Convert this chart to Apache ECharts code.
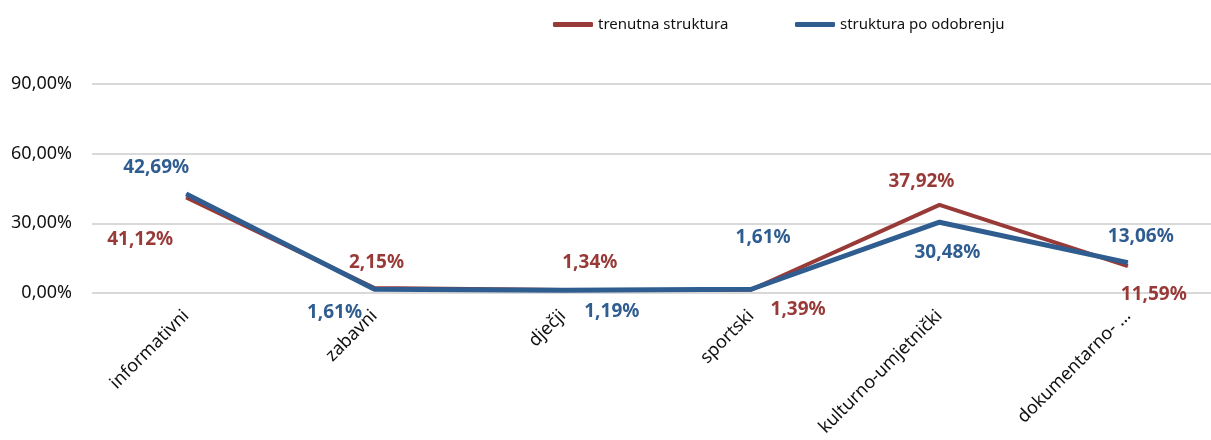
<!DOCTYPE html>
<html>
<head>
<meta charset="utf-8">
<script src="https://cdn.jsdelivr.net/npm/echarts@6/dist/echarts.min.js"></script>
<style>
  html, body { margin: 0; padding: 0; background: #fff; }
  #chart { width: 1211px; height: 440px; }
</style>
</head>
<body>
<div id="chart"></div>
<script>
const categories = ['informativni', 'zabavni', 'dječji', 'sportski', 'kulturno-umjetnički', 'dokumentarno- …']
const trenutna = [41.12, 2.15, 1.34, 1.39, 37.92, 11.59]
const poOdobrenju = [42.69, 1.61, 1.19, 1.61, 30.48, 13.06]
const yTicks = [0, 30, 60, 90]

// label offsets per point, so labels sit like in the source chart
const redOffsets = [[-46, 42], [2, -25], [27, -27], [47, 20], [-18, -23], [26, 29]]
const blueOffsets = [[-30, -26], [-40, 23], [49, 21], [12, -52], [8, 30], [13, -26]]

const RED = '#983A37'
const BLUE = '#2F5D90'
const fmt = v => v.toFixed(2).replace('.', ',') + '%'

const withLabels = (values, offsets, color) => values.map((v, i) => ({
    value: v,
    label: { offset: offsets[i], color: color }
}))

const myChart = echarts.init(document.getElementById('chart'))
const option = {
    animation: false,
    textStyle: { fontFamily: 'Noto Sans' },
    legend: [
        {
            data: ['trenutna struktura'],
            left: 548,
            top: 12,
            itemWidth: 40,
            itemHeight: 5,
            icon: 'roundRect',
            textStyle: { fontSize: 15, color: '#111' }
        },
        {
            data: ['struktura po odobrenju'],
            left: 790,
            top: 12,
            itemWidth: 40,
            itemHeight: 5,
            icon: 'roundRect',
            textStyle: { fontSize: 15, color: '#111' }
        }
    ],
    grid: {
        left: 92,
        width: 1130,
        top: 84,
        bottom: 147,
        containLabel: false,
        outerBoundsMode: 'none'
    },
    xAxis: {
        type: 'category',
        data: categories,
        boundaryGap: true,
        axisTick: { show: false },
        axisLine: { show: false },
        axisLabel: {
            rotate: 45,
            interval: 0,
            margin: 20,
            fontSize: 18,
            color: '#111'
        }
    },
    yAxis: {
        type: 'value',
        min: yTicks[0],
        max: yTicks[yTicks.length - 1],
        interval: yTicks[1] - yTicks[0],
        axisLine: { show: false },
        axisTick: { show: false },
        axisLabel: {
            fontSize: 18,
            color: '#111',
            margin: 20,
            formatter: v => fmt(v)
        },
        splitLine: {
            lineStyle: { color: '#d9d9d9', width: 2 }
        }
    },
    series: [
        {
            name: 'trenutna struktura',
            type: 'line',
            data: withLabels(trenutna, redOffsets, RED),
            symbol: 'circle',
            symbolSize: 1,
            color: RED,
            lineStyle: { color: RED, width: 4 },
            z: 2,
            label: {
                show: true,
                position: 'inside',
                align: 'center',
                verticalAlign: 'middle',
                fontSize: 19,
                fontWeight: 'bold',
                formatter: p => fmt(p.value)
            }
        },
        {
            name: 'struktura po odobrenju',
            type: 'line',
            data: withLabels(poOdobrenju, blueOffsets, BLUE),
            symbol: 'circle',
            symbolSize: 1,
            color: BLUE,
            lineStyle: { color: BLUE, width: 5 },
            z: 3,
            label: {
                show: true,
                position: 'inside',
                align: 'center',
                verticalAlign: 'middle',
                fontSize: 19,
                fontWeight: 'bold',
                formatter: p => fmt(p.value)
            }
        }
    ]
}
myChart.setOption(option)
</script>
</body>
</html>
